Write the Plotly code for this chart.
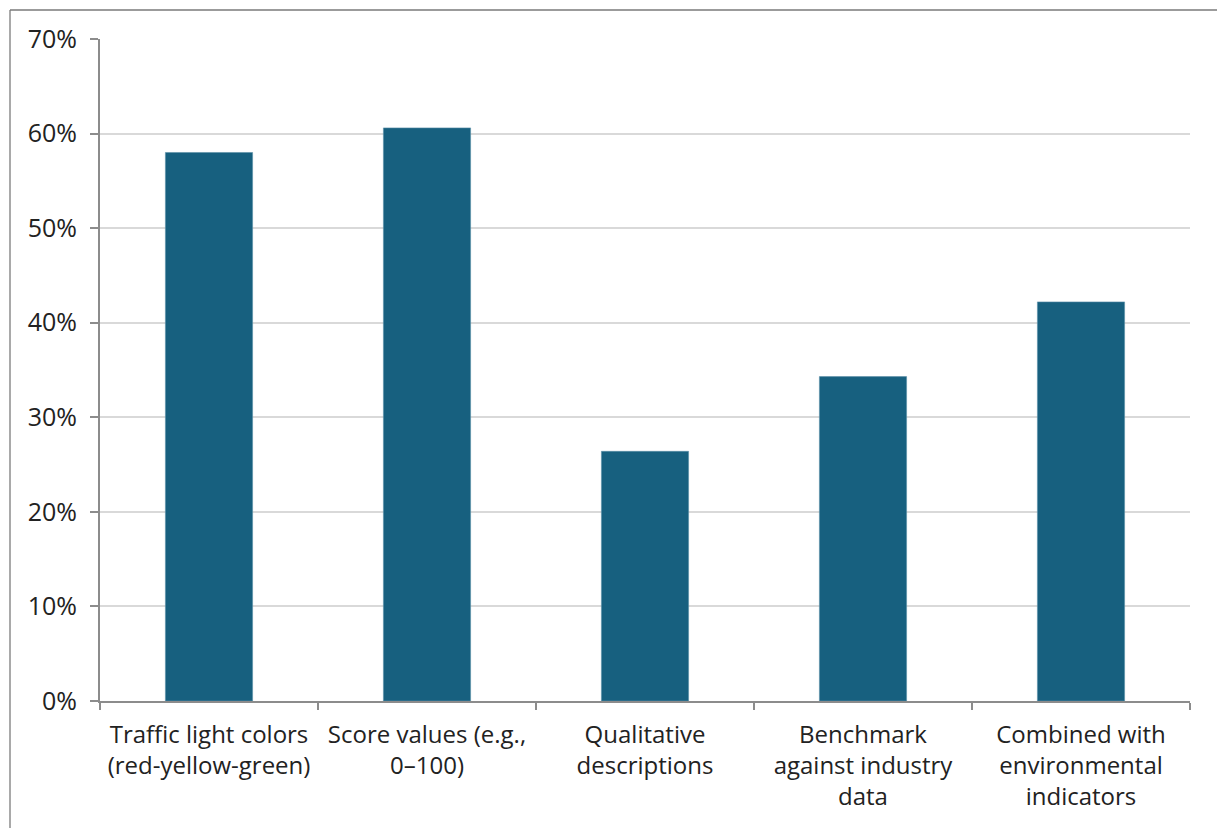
import plotly.graph_objects as go

# Share of respondents preferring each presentation format
categories = [
    "Traffic light colors<br>(red-yellow-green)",
    "Score values (e.g.,<br>0–100)",
    "Qualitative<br>descriptions",
    "Benchmark<br>against industry<br>data",
    "Combined with<br>environmental<br>indicators",
]
shares = [0.580, 0.606, 0.264, 0.343, 0.422]
y_ticks = [0, 0.1, 0.2, 0.3, 0.4, 0.5, 0.6, 0.7]

W, H = 1217, 828
ML, MR, MT, MB = 100, 27, 39, 127
pw, ph = W - ML - MR, H - MT - MB

fig = go.Figure(
    go.Bar(
        x=categories,
        y=shares,
        marker=dict(color="#17607f", line=dict(color="#5b8fa8", width=0.6)),
    )
)

font_family = "Open Sans, Lato, sans-serif"

fig.update_layout(
    width=W,
    height=H,
    margin=dict(l=ML, r=MR, t=MT, b=MB),
    plot_bgcolor="white",
    paper_bgcolor="white",
    bargap=0.6,
    showlegend=False,
    font=dict(family=font_family, size=24, color="#222222"),
    xaxis=dict(
        showline=True,
        linecolor="#8c8c8c",
        linewidth=2,
        ticks="outside",
        tickson="boundaries",
        ticklen=7,
        tickwidth=2,
        tickcolor="#8c8c8c",
        showgrid=False,
        tickfont=dict(size=24, color="#222222"),
        ticklabelstandoff=11,
    ),
    yaxis=dict(
        range=[0, 0.7],
        tickvals=y_ticks,
        tickformat=".0%",
        showline=True,
        linecolor="#8c8c8c",
        linewidth=2,
        ticks="outside",
        ticklen=8,
        tickwidth=2,
        tickcolor="#8c8c8c",
        showgrid=True,
        gridcolor="#d9d9d9",
        gridwidth=2,
        zeroline=False,
        tickfont=dict(size=25, color="#222222"),
        ticklabelstandoff=8,
    ),
)

# Chart-area outline on the left and top edges
x_left = (10 - ML) / pw
x_right = (W - ML) / pw
y_top = 1 + (MT - 10) / ph
y_bottom = -(H - MT - ph) / ph
fig.add_shape(type="line", xref="paper", yref="paper",
              x0=x_left, x1=x_left, y0=y_bottom, y1=y_top,
              line=dict(color="#8c8c8c", width=1.5))
fig.add_shape(type="line", xref="paper", yref="paper",
              x0=x_left, x1=x_right, y0=y_top, y1=y_top,
              line=dict(color="#7a7a7a", width=1.5))

fig.write_html("out.html")
